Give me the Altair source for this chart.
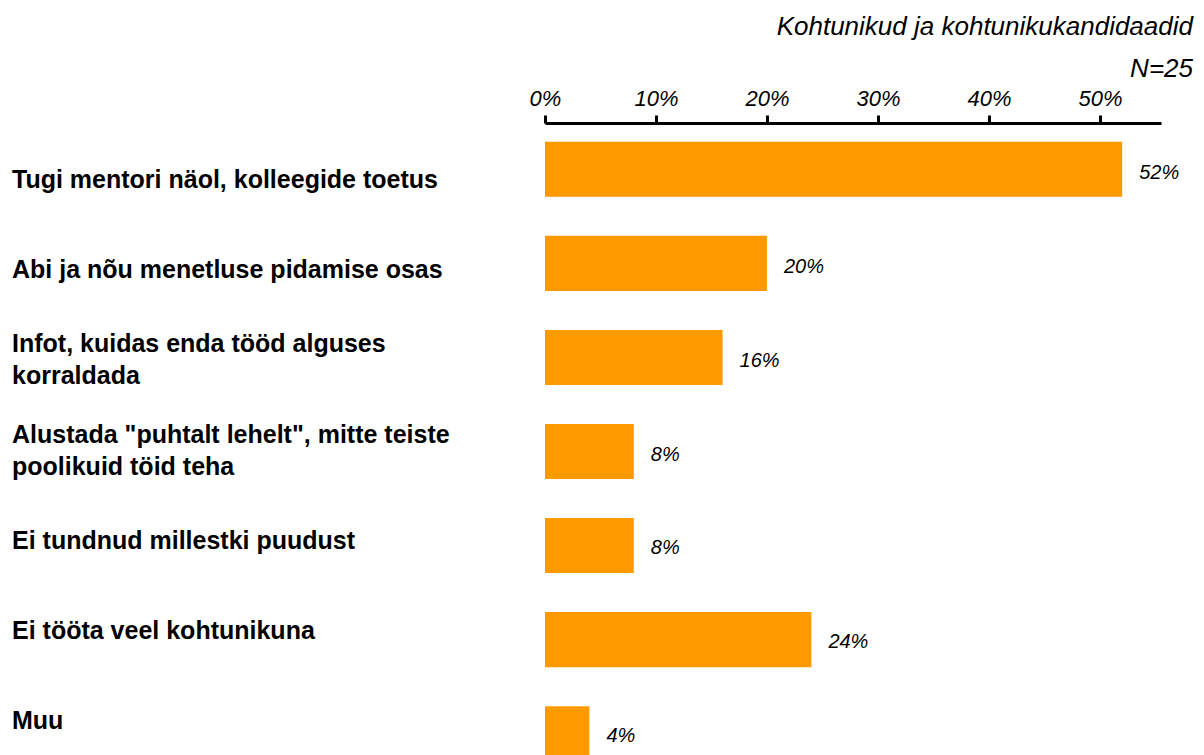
import altair as alt
import pandas as pd

# ---- data ----
categories = [
    "Tugi mentori näol, kolleegide toetus",
    "Abi ja nõu menetluse pidamise osas",
    "Infot, kuidas enda tööd alguses korraldada",
    'Alustada "puhtalt lehelt", mitte teiste poolikuid töid teha',
    "Ei tundnud millestki puudust",
    "Ei tööta veel kohtunikuna",
    "Muu",
]
label_lines = [
    "Tugi mentori näol, kolleegide toetus",
    "Abi ja nõu menetluse pidamise osas",
    "Infot, kuidas enda tööd alguses|korraldada",
    'Alustada "puhtalt lehelt", mitte teiste|poolikuid töid teha',
    "Ei tundnud millestki puudust",
    "Ei tööta veel kohtunikuna",
    "Muu",
]
values = [52, 20, 16, 8, 8, 24, 4]
x_ticks = [0, 10, 20, 30, 40, 50]
title_text = "Kohtunikud ja kohtunikukandidaadid"
n_text = "N=25"

df = pd.DataFrame({"cat": categories, "label": label_lines, "value": values})
df["nlines"] = df["label"].str.count(r"\|") + 1

FONT = "Liberation Sans"
ORANGE = "#FF9900"
LABEL_SIZE = 25
LINE_H = 32

x_enc = alt.X(
    "value:Q",
    scale=alt.Scale(domain=[0, 55.5], nice=False, zero=True),
    axis=alt.Axis(
        orient="top", values=x_ticks, labelExpr="datum.value + '%'", title=None,
        grid=False, domainColor="black", domainWidth=3, tickColor="black",
        tickWidth=3, tickSize=8, labelFontSize=22, labelFont=FONT,
        labelFontStyle="italic", labelColor="black", labelPadding=5,
        labelFlush=False,
    ),
)
y_band = alt.Y(
    "cat:N", sort=categories,
    scale=alt.Scale(range=[0, 657], paddingInner=0.415, paddingOuter=0.2),
    axis=None,
)

bars = alt.Chart(df).mark_bar(color=ORANGE, clip=True).encode(x=x_enc, y=y_band)

vals = (
    alt.Chart(df)
    .transform_calculate(txt="datum.value + '%'")
    .mark_text(align="left", baseline="middle", dx=17, dy=3, fontSize=20,
               fontStyle="italic", font=FONT, color="black")
    .encode(x="value:Q", y=y_band, text="txt:N")
)

y_lab = alt.Y(
    "cat:N", sort=categories,
    scale=alt.Scale(type="point", domain=categories, range=[57, 598], padding=0),
    axis=None,
)


def label_layer(n):
    return (
        alt.Chart(df)
        .transform_filter(f"datum.nlines == {n}")
        .mark_text(align="left", baseline="middle", fontSize=LABEL_SIZE,
                   fontWeight="bold", font=FONT, lineBreak="|",
                   lineHeight=LINE_H, color="black",
                   dy=-(n - 1) * LINE_H / 2)
        .encode(x=alt.value(-533), y=y_lab, text="label:N")
    )


chart = (
    alt.layer(bars, vals, label_layer(1), label_layer(2))
    .resolve_scale(y="independent")
    .properties(
        width=616, height=632,
        autosize=alt.AutoSizeParams(type="none"),
        padding={"left": 537, "top": 115, "right": 33, "bottom": 0},
        title=alt.TitleParams(
            text=title_text, subtitle=n_text, anchor="end", frame="group",
            dx=32, font=FONT, fontSize=26, fontStyle="italic",
            fontWeight="normal", color="black", subtitleFont=FONT,
            subtitleFontSize=26, subtitleFontStyle="italic",
            subtitleColor="black", subtitlePadding=16, offset=5,
        ),
    )
    .configure_view(stroke=None)
)

chart.save("out.html", embed_options={"renderer": "svg", "actions": False})
